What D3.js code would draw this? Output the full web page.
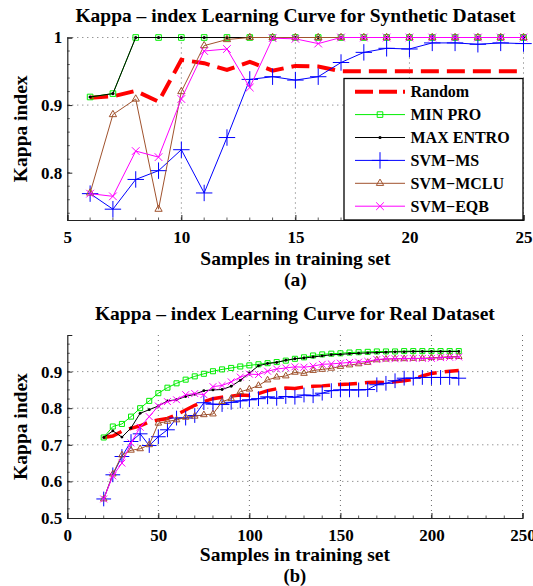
<!DOCTYPE html>
<html>
<head>
<meta charset="utf-8">
<script src="https://cdn.jsdelivr.net/npm/d3@7"></script>
<style>
  body { margin: 0; background: #fff; }
  svg { display: block; }
  text { font-family: "Liberation Serif", "Times New Roman", serif; font-weight: bold; fill: #000; }
</style>
</head>
<body>
<div id="chart"></div>
<script>
const seriesNames = ["Random", "MIN PRO", "MAX ENTRO", "SVM−MS", "SVM−MCLU", "SVM−EQB"];

// (a) synthetic dataset
const synthSamples = [6, 7, 8, 9, 10, 11, 12, 13, 14, 15, 16, 17, 18, 19, 20, 21, 22, 23, 24, 25];
const synthRandom = [0.911, 0.913, 0.921, 0.905, 0.967, 0.962, 0.952, 0.964, 0.951, 0.958, 0.957, 0.950, 0.950, 0.950, 0.950, 0.950, 0.950, 0.950, 0.950, 0.950];
const synthMinPro = [0.912, 0.917, 1, 1, 1, 1, 1, 1, 1, 1, 1, 1, 1, 1, 1, 1, 1, 1, 1, 1];
const synthMaxEntro = [0.912, 0.917, 1, 1, 1, 1, 1, 1, 1, 1, 1, 1, 1, 1, 1, 1, 1, 1, 1, 1];
const synthMS = [0.769, 0.746, 0.790, 0.803, 0.834, 0.770, 0.852, 0.938, 0.942, 0.937, 0.942, 0.963, 0.978, 0.984, 0.983, 0.992, 0.992, 0.990, 0.992, 0.991];
const synthMCLU = [0.770, 0.886, 0.909, 0.746, 0.920, 0.988, 0.997, 1, 1, 1, 1, 1, 1, 1, 1, 1, 1, 1, 1, 1];
const synthEQB = [0.769, 0.765, 0.832, 0.823, 0.909, 0.980, 0.983, 0.926, 0.999, 0.998, 0.991, 1, 1, 1, 1, 1, 1, 1, 1, 1];
const synthXTicks = [5, 10, 15, 20, 25];
const synthYTicks = [0.8, 0.9, 1];

// (b) real dataset
const realSamples = [20, 25, 30, 35, 40, 45, 50, 55, 60, 65, 70, 75, 80, 85, 90, 95, 100, 105, 110, 115,
  120, 125, 130, 135, 140, 145, 150, 155, 160, 165, 170, 175, 180, 185, 190, 195, 200, 205, 210, 215];
const realRandom = [0.720, 0.724, 0.737, 0.745, 0.752, 0.762, 0.768, 0.772, 0.782, 0.795, 0.808, 0.818, 0.826, 0.830, 0.833, 0.836, 0.835, 0.840, 0.848, 0.853,
  0.855, 0.854, 0.858, 0.860, 0.861, 0.863, 0.865, 0.866, 0.868, 0.870, 0.871, 0.870, 0.872, 0.875, 0.879, 0.888, 0.895, 0.898, 0.901, 0.903];
const realMinPro = [0.720, 0.750, 0.757, 0.777, 0.800, 0.820, 0.841, 0.856, 0.868, 0.878, 0.887, 0.894, 0.901, 0.906, 0.910, 0.914, 0.917, 0.920, 0.923, 0.926,
  0.930, 0.935, 0.939, 0.944, 0.947, 0.949, 0.950, 0.952, 0.953, 0.954, 0.955, 0.955, 0.955, 0.956, 0.956, 0.956, 0.956, 0.956, 0.956, 0.956];
const realMaxEntro = [0.720, 0.738, 0.721, 0.746, 0.786, 0.796, 0.806, 0.820, 0.823, 0.832, 0.838, 0.848, 0.850, 0.851, 0.860, 0.876, 0.896, 0.916, 0.922, 0.925,
  0.931, 0.935, 0.937, 0.940, 0.943, 0.946, 0.947, 0.949, 0.950, 0.951, 0.952, 0.953, 0.954, 0.954, 0.955, 0.955, 0.955, 0.955, 0.955, 0.955];
const realMS = [0.552, 0.618, 0.668, 0.709, 0.730, 0.698, 0.722, 0.741, 0.773, 0.773, 0.780, 0.815, 0.811, 0.810, 0.816, 0.820, 0.823, 0.826, 0.831, 0.827,
  0.832, 0.830, 0.836, 0.834, 0.841, 0.848, 0.850, 0.850, 0.850, 0.851, 0.864, 0.868, 0.875, 0.882, 0.882, 0.884, 0.884, 0.884, 0.884, 0.882];
const realMCLU = [0.552, 0.620, 0.672, 0.685, 0.689, 0.700, 0.759, 0.764, 0.768, 0.775, 0.778, 0.782, 0.784, 0.818, 0.826, 0.845, 0.852, 0.862, 0.877, 0.885,
  0.888, 0.898, 0.895, 0.903, 0.906, 0.909, 0.914, 0.918, 0.921, 0.925, 0.932, 0.934, 0.935, 0.935, 0.936, 0.936, 0.938, 0.939, 0.941, 0.941];
const realEQB = [0.552, 0.615, 0.650, 0.705, 0.748, 0.777, 0.806, 0.818, 0.823, 0.837, 0.840, 0.837, 0.859, 0.862, 0.872, 0.885, 0.893, 0.892, 0.901, 0.907,
  0.910, 0.913, 0.912, 0.915, 0.920, 0.921, 0.923, 0.925, 0.926, 0.928, 0.933, 0.935, 0.935, 0.936, 0.936, 0.936, 0.936, 0.938, 0.939, 0.940];
const realXTicks = [0, 50, 100, 150, 200, 250];
const realYTicks = [0.5, 0.6, 0.7, 0.8, 0.9];

const looks = [
  { color: "#ff0000", marker: null, dashed: true },
  { color: "#00ee00", marker: "square" },
  { color: "#000000", marker: "dot" },
  { color: "#0000ff", marker: "plus" },
  { color: "#a0522d", marker: "triangle" },
  { color: "#ff00ff", marker: "x" }
];

const svg = d3.select("#chart").append("svg").attr("width", 533).attr("height", 586);

function drawMarker(g, kind, x, y, color, scale) {
  if (!kind) return;
  if (kind === "dot") {
    g.append("circle").attr("cx", x).attr("cy", y).attr("r", 1.6 * scale).attr("fill", color);
    return;
  }
  const types = { square: [d3.symbolSquare2, 40], plus: [d3.symbolPlus, 90], triangle: [d3.symbolTriangle2, 38], x: [d3.symbolX, 40] };
  const t = types[kind];
  g.append("path")
    .attr("d", d3.symbol(t[0], t[1] * scale * scale)())
    .attr("transform", `translate(${x},${y})`)
    .attr("fill", "none")
    .attr("stroke", color)
    .attr("stroke-width", 1);
}

function drawPanel(p) {
  const x = d3.scaleLinear().domain(p.xDomain).range([p.left, p.right]);
  const y = d3.scaleLinear().domain(p.yDomain).range([p.bottom, p.top]);
  const g = svg.append("g");

  // dotted grid
  g.selectAll(".gx").data(p.xTicks.slice(1)).enter().append("line")
    .attr("x1", d => x(d)).attr("x2", d => x(d)).attr("y1", p.top).attr("y2", p.bottom)
    .attr("stroke", "#444").attr("stroke-width", 0.8).attr("stroke-dasharray", "1,4");
  g.selectAll(".gy").data(p.yTicks.slice(1)).enter().append("line")
    .attr("y1", d => y(d)).attr("y2", d => y(d)).attr("x1", p.left).attr("x2", p.right)
    .attr("stroke", "#444").attr("stroke-width", 0.8).attr("stroke-dasharray", "1,4");

  // minor ticks
  g.selectAll(".mx").data(p.xMinor).enter().append("line")
    .attr("x1", d => x(d)).attr("x2", d => x(d)).attr("y1", p.bottom).attr("y2", p.bottom - 2.5)
    .attr("stroke", "#333").attr("stroke-width", 0.8);
  g.selectAll(".my").data(p.yMinor).enter().append("line")
    .attr("y1", d => y(d)).attr("y2", d => y(d)).attr("x1", p.left).attr("x2", p.left + 2.5)
    .attr("stroke", "#333").attr("stroke-width", 0.8);

  // axes
  const ax = g.append("g").attr("transform", `translate(0,${p.bottom})`)
    .call(d3.axisBottom(x).tickValues(p.xTicks).tickFormat(d => String(d)).tickSize(-5).tickPadding(11));
  const ay = g.append("g").attr("transform", `translate(${p.left},0)`)
    .call(d3.axisLeft(y).tickValues(p.yTicks).tickFormat(d => String(d)).tickSize(-5).tickPadding(5));
  [ax, ay].forEach(a => {
    a.attr("font-family", null);
    a.select(".domain").attr("stroke", "#222").attr("stroke-width", 1.2);
    a.selectAll(".tick line").attr("stroke", "#222");
    a.selectAll("text").style("font-size", "17px");
  });
  ax.selectAll("text").attr("dy", "0.72em");

  // series
  const line = d3.line().x(d => x(d[0])).y(d => y(d[1]));
  p.series.forEach((vals, i) => {
    const pts = p.samples.map((s, k) => [s, vals[k]]);
    const look = looks[i];
    const sg = g.append("g");
    sg.append("path").datum(pts).attr("d", line)
      .attr("fill", "none").attr("stroke", look.color)
      .attr("stroke-width", look.dashed ? p.randomWidth : 1)
      .attr("stroke-dasharray", look.dashed ? p.randomDash : null);
    pts.forEach(d => drawMarker(sg, look.marker, x(d[0]), y(d[1]), look.color, p.markerScale));
  });

  // labels
  g.append("text").attr("x", (p.left + p.right) / 2).attr("y", p.top - 15.5)
    .attr("text-anchor", "middle").style("font-size", "19.5px").text(p.title);
  g.append("text").attr("transform", `translate(27,${(p.top + p.bottom) / 2}) rotate(-90)`)
    .attr("text-anchor", "middle").style("font-size", "19.5px").text("Kappa index");
  g.append("text").attr("x", (p.left + p.right) / 2).attr("y", p.bottom + p.labelOffset)
    .attr("text-anchor", "middle").style("font-size", "19.5px").text("Samples in training set");
  g.append("text").attr("x", (p.left + p.right) / 2).attr("y", p.bottom + p.tagOffset)
    .attr("text-anchor", "middle").style("font-size", p.tagSize).text(p.tag);

  return { x, y };
}

drawPanel({
  left: 67.3, right: 523.5, top: 37.5, bottom: 220,
  xDomain: [5, 25], yDomain: [0.73, 1],
  xTicks: synthXTicks, yTicks: synthYTicks,
  xMinor: d3.range(6, 25, 1), yMinor: d3.range(0.74, 0.995, 0.02),
  samples: synthSamples,
  series: [synthRandom, synthMinPro, synthMaxEntro, synthMS, synthMCLU, synthEQB],
  randomWidth: 4, randomDash: "18,8", markerScale: 1,
  title: "Kappa – index Learning Curve for Synthetic Dataset", tag: "(a)",
  labelOffset: 45, tagOffset: 66, tagSize: "19.5px"
});

drawPanel({
  left: 67.3, right: 522.5, top: 335, bottom: 518,
  xDomain: [0, 250], yDomain: [0.5, 1],
  xTicks: realXTicks, yTicks: realYTicks,
  xMinor: d3.range(10, 250, 10), yMinor: d3.range(0.525, 0.999, 0.025),
  samples: realSamples,
  series: [realRandom, realMinPro, realMaxEntro, realMS, realMCLU, realEQB],
  randomWidth: 3.5, randomDash: "19,8", markerScale: 0.9,
  title: "Kappa – index Learning Curve for Real Dataset", tag: "(b)",
  labelOffset: 43, tagOffset: 64, tagSize: "18.5px"
});

// legend of panel (a)
const legend = svg.append("g");
legend.append("rect").attr("x", 344).attr("y", 78.5).attr("width", 179).attr("height", 141.5)
  .attr("fill", "#fff").attr("stroke", "#000").attr("stroke-width", 1.3);
seriesNames.forEach((name, i) => {
  const ly = 91.7 + i * 22.9;
  const look = looks[i];
  legend.append("line").attr("x1", 355).attr("x2", 405).attr("y1", ly).attr("y2", ly)
    .attr("stroke", look.color).attr("stroke-width", look.dashed ? 4 : 1)
    .attr("stroke-dasharray", look.dashed ? "18,6" : null);
  drawMarker(legend, look.marker, 380, ly, look.color, 1);
  legend.append("text").attr("x", 410.5).attr("y", ly).attr("dy", "0.35em")
    .style("font-size", "16px").text(name);
});
</script>
</body>
</html>
